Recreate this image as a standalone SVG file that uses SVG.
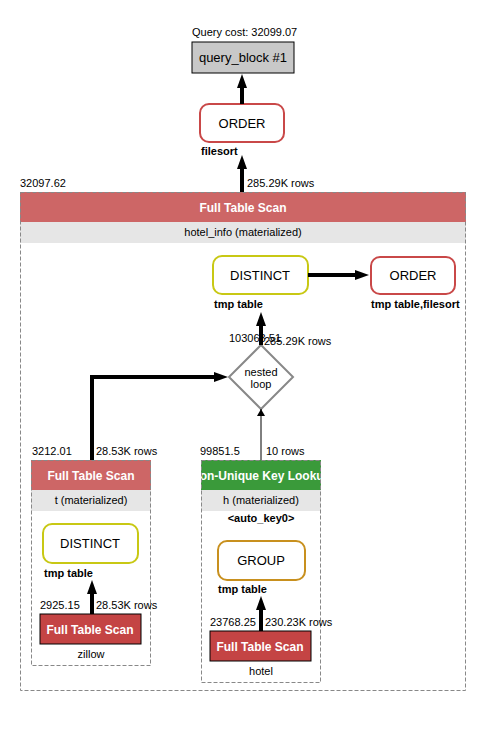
<svg xmlns="http://www.w3.org/2000/svg" width="504" height="742" viewBox="0 0 504 742">
<style>
text{font-family:"Liberation Sans",Arial,sans-serif;font-size:11px;fill:#000}
.c{text-anchor:middle}
.b{font-weight:bold}
.w{fill:#fff;font-weight:bold;font-size:12px}
.op{font-size:13px}
.cont{fill:none;stroke:#888;stroke-dasharray:4,2;stroke-width:1}
.gray{fill:#e6e6e6}
.rnd{fill:#fff;stroke-width:2}
.th{stroke:#000;stroke-width:4;fill:none}
.tn{stroke:#000;stroke-width:1;fill:none}
</style>
<defs>
<marker id="ah" markerWidth="14" markerHeight="10" refX="6" refY="5" orient="auto" markerUnits="userSpaceOnUse"><path d="M0,0L14,5L0,10z" fill="#000"/></marker>
<marker id="ahs" markerWidth="7" markerHeight="8" refX="7" refY="4" orient="auto" markerUnits="userSpaceOnUse"><path d="M0,0L7,4L0,8z" fill="#000"/></marker>
<clipPath id="gclip"><rect x="201" y="460" width="120" height="30"/></clipPath>
</defs>
<rect width="504" height="742" fill="#fff"/>

<g id="query_block">
<text x="192" y="36">Query cost: 32099.07</text>
<rect x="192" y="42" width="102" height="31" fill="#c8c8c8" stroke="#000"/>
<text class="c op" x="243" y="62">query_block #1</text>
</g>

<g id="order_top">
<rect class="rnd" x="200" y="104" width="84" height="38" rx="9" stroke="#c94848"/>
<text class="c op" x="242" y="128">ORDER</text>
<text class="b" x="201" y="155">filesort</text>
</g>

<g id="hotel_info">
<text x="20" y="187">32097.62</text>
<rect x="20" y="192" width="446" height="30" fill="#cd6666"/>
<text class="c w" x="243" y="212">Full Table Scan</text>
<rect class="gray" x="20" y="222" width="446" height="21"/>
<text class="c" x="243" y="236">hotel_info (materialized)</text>
<rect class="cont" x="20.5" y="192.5" width="445" height="498"/>
</g>

<g id="distinct_top">
<rect class="rnd" x="213" y="256" width="95" height="38" rx="9" stroke="#c8c814"/>
<text class="c op" x="260" y="280">DISTINCT</text>
<text class="b" x="214" y="308">tmp table</text>
</g>

<g id="order_right">
<rect class="rnd" x="371" y="257" width="84" height="37" rx="9" stroke="#c94848"/>
<text class="c op" x="413" y="280">ORDER</text>
<text class="b" x="371" y="308">tmp table,filesort</text>
</g>

<g id="nested_loop">
<path d="M261,345L293,377L261,409L229,377z" fill="#fff" stroke="#888" stroke-width="2"/>
<text class="c" x="261" y="376">nested</text>
<text class="c" x="261" y="388">loop</text>
</g>

<g id="t_mat">
<text x="32" y="455">3212.01</text>
<rect x="31" y="460" width="120" height="30" fill="#cd6666"/>
<text class="c w" x="91" y="480">Full Table Scan</text>
<rect class="gray" x="31" y="490" width="120" height="21"/>
<text class="c" x="91" y="504">t (materialized)</text>
<rect class="cont" x="31.5" y="460.5" width="119" height="205"/>
</g>

<g id="distinct_left">
<rect class="rnd" x="43" y="524" width="95" height="39" rx="9" stroke="#c8c814"/>
<text class="c op" x="90" y="548">DISTINCT</text>
<text class="b" x="44" y="577">tmp table</text>
</g>

<g id="zillow">
<text x="40" y="609">2925.15</text>
<rect x="40" y="614" width="101" height="30" fill="#c44444" stroke="#000"/>
<text class="c w" x="90" y="634">Full Table Scan</text>
<text class="c" x="91" y="658">zillow</text>
</g>

<g id="h_mat">
<text x="200" y="455">99851.5</text>
<rect x="201" y="460" width="120" height="30" fill="#3a9a3a"/>
<text class="c w" x="261" y="480" clip-path="url(#gclip)">Non-Unique Key Lookup</text>
<rect class="gray" x="201" y="490" width="120" height="21"/>
<text class="c" x="261" y="504">h (materialized)</text>
<text class="c b" x="261" y="522">&lt;auto_key0&gt;</text>
<rect class="cont" x="201.5" y="460.5" width="119" height="222"/>
</g>

<g id="group">
<rect class="rnd" x="218" y="541" width="87" height="39" rx="9" stroke="#c8901e"/>
<text class="c op" x="261" y="565">GROUP</text>
<text class="b" x="218" y="593">tmp table</text>
</g>

<g id="hotel">
<text x="210" y="626">23768.25</text>
<rect x="210" y="631" width="101" height="30" fill="#c44444" stroke="#000"/>
<text class="c w" x="260" y="651">Full Table Scan</text>
<text class="c" x="261" y="675">hotel</text>
</g>

<g id="connectors">
<path class="th" d="M242,104V82" marker-end="url(#ah)"/>
<path class="th" d="M242,192V163" marker-end="url(#ah)"/>
<text x="247" y="187">285.29K rows</text>
<path class="th" d="M308,275H361" marker-end="url(#ah)"/>
<text x="229" y="342">103063.51</text>
<path class="th" d="M261,345V320" marker-end="url(#ah)"/>
<text x="264" y="345">285.29K rows</text>
<path class="th" d="M92,460V377H220" marker-end="url(#ah)"/>
<text x="96" y="455">28.53K rows</text>
<path class="tn" d="M261,460V409" marker-end="url(#ahs)"/>
<text x="266" y="455">10 rows</text>
<path class="th" d="M92,614V588" marker-end="url(#ah)"/>
<text x="96" y="609">28.53K rows</text>
<path class="th" d="M261,631V604" marker-end="url(#ah)"/>
<text x="265" y="626">230.23K rows</text>
</g>
</svg>
